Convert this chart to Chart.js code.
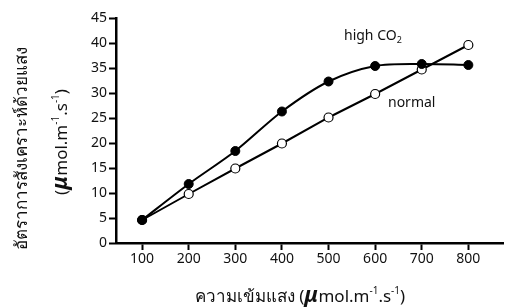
<!DOCTYPE html>
<html>
<head>
<meta charset="utf-8">
<script src="https://cdn.jsdelivr.net/npm/chart.js@4/dist/chart.umd.min.js"></script>
<style>
  html, body { margin: 0; padding: 0; background: #fff; }
  #wrap { width: 509px; height: 307px; position: relative; }
</style>
</head>
<body>
<div id="wrap"><canvas id="c" width="509" height="307"></canvas></div>
<script>
// light intensity (x) and photosynthesis rate for the two curves
var lightLevels = [100, 200, 300, 400, 500, 600, 700, 800];
var highCO2 = [4.6, 11.8, 18.4, 26.3, 32.3, 35.4, 35.8, 35.6];
var normal = [4.6, 9.8, 14.9, 19.9, 25.1, 29.8, 34.7, 39.6];
var xTickValues = [100, 200, 300, 400, 500, 600, 700, 800];
var yTickValues = [0, 5, 10, 15, 20, 25, 30, 35, 40, 45];

var FONT = "'Noto Sans', 'DejaVu Sans', sans-serif";

function pts(xs, ys) {
    return xs.map(function (x, i) { return { x: x, y: ys[i] }; });
}

// draws a run of text pieces, each with its own font and vertical shift
function richText(ctx, parts, x, y, align) {
    var total = 0;
    parts.forEach(function (p) { ctx.font = p.font; total += ctx.measureText(p.t).width; });
    var cx = align === 'center' ? x - total / 2 : x;
    ctx.textBaseline = 'alphabetic';
    ctx.textAlign = 'left';
    parts.forEach(function (p) {
        ctx.font = p.font;
        ctx.fillText(p.t, cx, y + (p.dy || 0));
        cx += ctx.measureText(p.t).width;
    });
}

function unitParts(size) {
    var base = size + "px " + FONT;
    var sup = Math.round(size * 0.6) + "px " + FONT;
    var mu = "bold italic " + Math.round(size * 1.3) + "px " + FONT;
    return [
        { t: 'μ', font: mu },
        { t: 'mol.m', font: base },
        { t: '-1', font: sup, dy: -size * 0.45 },
        { t: '.s', font: base },
        { t: '-1', font: sup, dy: -size * 0.45 },
        { t: ')', font: base }
    ];
}

var titles = {
    id: 'titles',
    afterDraw: function (chart) {
        var ctx = chart.ctx;
        ctx.save();
        ctx.fillStyle = '#111';
        // x title
        var xp = [{ t: 'ความเข้มแสง (', font: "17px " + FONT }].concat(unitParts(17));
        richText(ctx, xp, 300, 302, 'center');
        // y title, two rotated lines
        ctx.save();
        ctx.translate(27, 148);
        ctx.rotate(-Math.PI / 2);
        richText(ctx, [{ t: 'อัตราการสังเคราะห์ด้วยแสง', font: "17px " + FONT }], 0, 0, 'center');
        ctx.restore();
        ctx.save();
        ctx.translate(67, 142);
        ctx.rotate(-Math.PI / 2);
        richText(ctx, [{ t: '(', font: "17px " + FONT }].concat(unitParts(17)), 0, 0, 'center');
        ctx.restore();
        // curve labels
        richText(ctx, [
            { t: 'high CO', font: "14px " + FONT },
            { t: '2', font: "9px " + FONT, dy: 3 }
        ], 344, 40, 'left');
        richText(ctx, [{ t: 'normal', font: "14px " + FONT }], 388, 107, 'left');
        ctx.restore();
    }
};

var axisGrid = { display: true, drawOnChartArea: false, drawTicks: true, tickLength: 7, tickWidth: 2, tickColor: '#000', color: '#000' };

new Chart(document.getElementById('c'), {
    type: 'line',
    data: {
        datasets: [{
            label: 'high CO2',
            data: pts(lightLevels, highCO2),
            borderColor: '#000',
            backgroundColor: '#000',
            borderWidth: 2,
            tension: 0.3,
            pointRadius: 4.5,
            pointBorderWidth: 1,
            pointBorderColor: '#000',
            pointBackgroundColor: '#000'
        }, {
            label: 'normal',
            data: pts(lightLevels, normal),
            borderColor: '#000',
            borderWidth: 2,
            tension: 0,
            pointRadius: 4.5,
            pointBorderWidth: 1.2,
            pointBorderColor: '#000',
            pointBackgroundColor: '#fff'
        }]
    },
    options: {
        responsive: false,
        animation: false,
        layout: { padding: { top: 18, right: 0, left: 0, bottom: 0 } },
        plugins: { legend: { display: false }, tooltip: { enabled: false } },
        scales: {
            x: {
                type: 'linear',
                min: 44,
                max: 875,
                afterBuildTicks: function (s) { s.ticks = xTickValues.map(function (v) { return { value: v }; }); },
                afterFit: function (s) { s.height = 64; },
                grid: axisGrid,
                border: { display: true, color: '#000', width: 2.5 },
                ticks: { color: '#111', font: { family: FONT, size: 14 }, padding: 1, maxRotation: 0, autoSkip: false }
            },
            y: {
                min: 0,
                max: 45,
                afterBuildTicks: function (s) { s.ticks = yTickValues.map(function (v) { return { value: v }; }); },
                afterFit: function (s) { s.width = 116; },
                grid: axisGrid,
                border: { display: true, color: '#000', width: 2.5 },
                ticks: { color: '#111', font: { family: FONT, size: 14 }, padding: 2, autoSkip: false }
            }
        }
    },
    plugins: [titles]
});
</script>
</body>
</html>
